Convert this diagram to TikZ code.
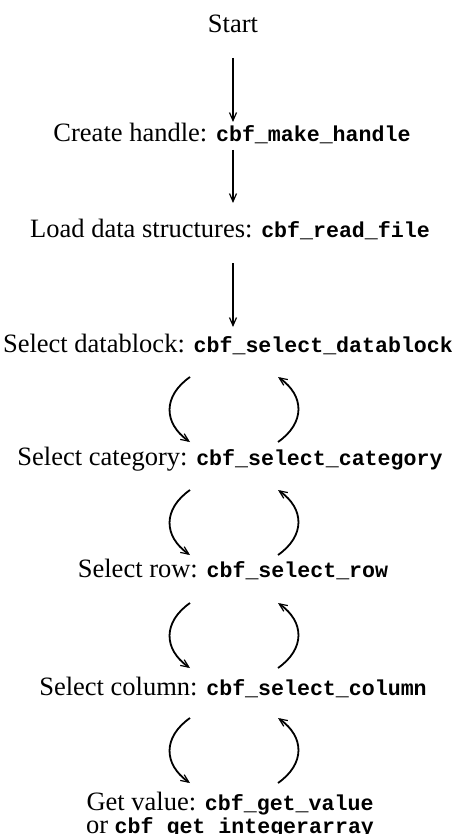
\documentclass[tikz,border=0pt]{standalone}
\usepackage{fontspec}
\setmainfont{Liberation Serif}
\setmonofont{Liberation Mono}
\usetikzlibrary{arrows.meta}
\newcommand{\fn}[1]{{\fontsize{10.8}{10}\selectfont\ttfamily\bfseries #1}}

\begin{document}
\begin{tikzpicture}[x=0.5pt,y=0.5pt,
    lbl/.style={inner sep=0pt,anchor=base,font=\fontsize{13.25}{10}\selectfont},
    flow/.style={line width=0.9pt,-{Straight Barb[length=4pt,width=3.5pt,line width=0.6pt]}}]
                    \useasboundingbox (0,0) rectangle (457,-834);
                    \coordinate (mid) at (233,0);
                    \coordinate (lx) at (190,0);
                    \coordinate (rx) at (278,0);
                    \node [lbl] (start) at (233,-33) {Start};
                    \node [lbl] (handle) at (232,-142) {Create handle: \fn{cbf\_make\_handle}};
                    \node [lbl] (load) at (230,-237) {Load data structures: \fn{cbf\_read\_file}};
                    \node [lbl] (block) at (228,-352) {Select datablock: \fn{cbf\_select\_datablock}};
                    \node [lbl] (cat) at (230,-465) {Select category: \fn{cbf\_select\_category}};
                    \node [lbl] (row) at (233,-577) {Select row: \fn{cbf\_select\_row}};
                    \node [lbl] (col) at (233,-695) {Select column: \fn{cbf\_select\_column}};
                    \node [lbl,anchor=north,align=center] (get) at (230,-792)
                        {Get value: \fn{cbf\_get\_value}\\or \fn{cbf\_get\_integerarray}};
                    \draw [flow] ([shift={(0,-25)}]start.base -| mid) -- ([shift={(0,20)}]handle.base -| mid);
                    \draw [flow] ([shift={(0,-8)}]handle.base -| mid) -- ([shift={(0,34)}]load.base -| mid);
                    \draw [flow] ([shift={(0,-26)}]load.base -| mid) -- ([shift={(0,25)}]block.base -| mid);
                    \draw [flow] ([shift={(0,-25)}]block.base -| lx) to [out=215, in=145, looseness=1.3] ([shift={(0,23)}]cat.base -| lx);
                    \draw [flow] ([shift={(0,23)}]cat.base -| rx) to [out=35, in=-35, looseness=1.3] ([shift={(0,-25)}]block.base -| rx);
                    \draw [flow] ([shift={(0,-25)}]cat.base -| lx) to [out=215, in=145, looseness=1.3] ([shift={(0,22)}]row.base -| lx);
                    \draw [flow] ([shift={(0,22)}]row.base -| rx) to [out=35, in=-35, looseness=1.3] ([shift={(0,-25)}]cat.base -| rx);
                    \draw [flow] ([shift={(0,-26)}]row.base -| lx) to [out=215, in=145, looseness=1.3] ([shift={(0,27)}]col.base -| lx);
                    \draw [flow] ([shift={(0,27)}]col.base -| rx) to [out=35, in=-35, looseness=1.3] ([shift={(0,-26)}]row.base -| rx);
                    \draw [flow] ([shift={(0,-23)}]col.base -| lx) to [out=215, in=145, looseness=1.3] ([shift={(0,9)}]get.north -| lx);
                    \draw [flow] ([shift={(0,9)}]get.north -| rx) to [out=35, in=-35, looseness=1.3] ([shift={(0,-23)}]col.base -| rx);
                \end{tikzpicture}
\end{document}
